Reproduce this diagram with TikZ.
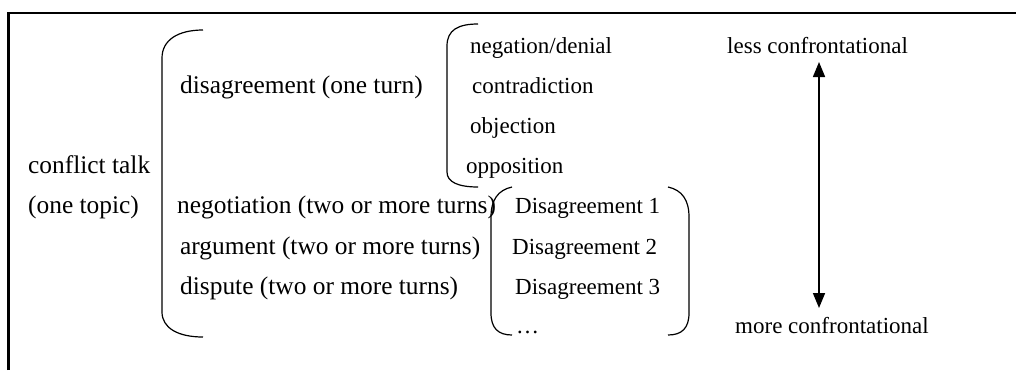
\documentclass[tikz,border=0pt]{standalone}
\usepackage{fontspec}
\setmainfont{Liberation Serif}
\usetikzlibrary{arrows.meta}
\begin{document}
\begin{tikzpicture}[x=1pt,y=-1pt,
  bigtxt/.style={anchor=base west,inner sep=0pt,font=\fontsize{25.4}{30}\selectfont},
  smalltxt/.style={anchor=base west,inner sep=0pt,font=\fontsize{23}{28}\selectfont},
  bracket/.style={line width=1.2pt},
  frame/.style={line width=2.6pt}]
\useasboundingbox (0,0) rectangle (1016,370);
% frame (top and left sides)
\draw[frame] (8.5,370) -- (8.5,13) -- (1016,13);
% left column
\node[bigtxt] (ct) at (28,173) {conflict talk};
\node[bigtxt] (ot) at (28,213) {(one topic)};
% big bracket
\draw[bracket] (203,30) .. controls (178,30) and (162,40) .. (162,58) -- (162,312)
  .. controls (162,328) and (178,337) .. (203,337);
% middle column
\node[bigtxt] (dis) at (180,93) {disagreement (one turn)};
\node[bigtxt] (neg) at (177,213) {negotiation (two or more turns)};
\node[bigtxt] (arg) at (180,254) {argument (two or more turns)};
\node[bigtxt] (dsp) at (180,294) {dispute (two or more turns)};
% upper small bracket
\draw[bracket] (478,24) .. controls (458,24) and (447,30) .. (447,46) -- (447,172)
  .. controls (447,182) and (458,187) .. (478,187);
\node[smalltxt] (nd) at (470,53) {negation/denial};
\node[smalltxt] (cd) at (472,93) {contradiction};
\node[smalltxt] (ob) at (470,133) {objection};
\node[smalltxt] (op) at (466,173) {opposition};
% lower parentheses
\draw[bracket] (512,187) .. controls (498,190) and (491,200) .. (491,217) -- (491,313)
  .. controls (491,328) and (498,335) .. (512,335);
\draw[bracket] (668,187) .. controls (682,190) and (689,200) .. (689,217) -- (689,313)
  .. controls (689,328) and (682,335) .. (668,335);
\node[smalltxt] (d1) at (515,213) {Disagreement 1};
\node[smalltxt] (d2) at (512,254) {Disagreement 2};
\node[smalltxt] (d3) at (515,294) {Disagreement 3};
\node[smalltxt] (dots) at (516,333) {…};
% scale
\node[smalltxt] (less) at (727,53) {less confrontational};
\node[smalltxt] (more) at (735,333) {more confrontational};
\coordinate (atop) at (819,62);
\coordinate (abot) at (819,308);
\draw[line width=1.6pt,{Triangle[length=15pt,width=12pt]}-{Triangle[length=15pt,width=12pt]}] (atop) -- (abot);
\end{tikzpicture}
\end{document}
